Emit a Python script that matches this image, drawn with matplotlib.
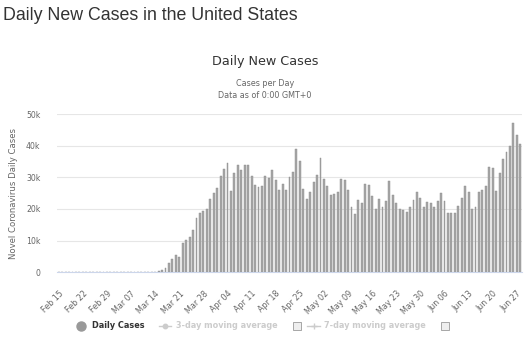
import matplotlib
matplotlib.use("Agg")
import matplotlib.pyplot as plt
from matplotlib.lines import Line2D
from matplotlib.patches import Rectangle
import pandas as pd

dates = pd.date_range("2020-02-15", "2020-06-28", freq="D")
categories = [d.strftime("%b %d") for d in dates]

feb_mar12 = [0] * 27
mar13_apr04 = [150, 200, 500, 600, 1400, 2800, 4200, 5400, 4700, 9400, 10200, 11000,
               13300, 17300, 18600, 19500, 20100, 23000, 25100, 26700, 30300, 32600, 34400]
apr05_apr29 = [25700, 31500, 33900, 32200, 33900, 33900, 30300, 27700, 26800, 27300,
               30300, 29800, 32200, 29000, 26100, 28000, 26000, 30000, 31800, 38900,
               35300, 26300, 23000, 25400, 28500]
apr30_may24 = [30800, 36000, 29600, 27300, 24500, 24600, 25500, 29400, 29200, 26000,
               20600, 18400, 22900, 22000, 28000, 27500, 24100, 20000, 23300, 20600,
               22500, 28800, 24400, 21800, 19900]
may25_jun17 = [19800, 19200, 20600, 22900, 25500, 23600, 20600, 22300, 22000, 20600,
               22600, 25200, 22600, 18700, 18700, 18700, 20900, 23400, 27300, 25500,
               20000, 20600, 25500, 26100]
jun18_jun28 = [27300, 33200, 33100, 25800, 31300, 35800, 38100, 39900, 47300, 43400, 40400]
daily_cases = feb_mar12 + mar13_apr04 + apr05_apr29 + apr30_may24 + may25_jun17 + jun18_jun28

y_ticks = [0, 10000, 20000, 30000, 40000, 50000]
y_tick_labels = ["0", "10k", "20k", "30k", "40k", "50k"]

W, H = 526, 338
fig = plt.figure(figsize=(W / 100, H / 100), dpi=100)
fig.patch.set_facecolor("white")

left, right, top, bottom = 57, 522, 114, 272.3
ax = fig.add_axes([left / W, 1 - bottom / H, (right - left) / W, (bottom - top) / H])

x = list(range(len(daily_cases)))
ax.bar(x, daily_cases, width=0.52, color="#a8a8a8", edgecolor="#8a8a8a", linewidth=0.3, zorder=3)

ax.set_xlim(-0.5, len(categories) - 0.5)
ax.set_ylim(0, 50000)
ax.set_yticks(y_ticks)
ax.set_yticklabels(y_tick_labels, fontsize=5.6, color="#666666", family="DejaVu Sans")
ax.grid(axis="y", color="#e6e6e6", linewidth=0.8, zorder=0)
ax.tick_params(axis="y", length=0, pad=12)

tick_pos = list(range(0, len(categories), 7))
ax.set_xticks(tick_pos)
ax.set_xticklabels([categories[i] for i in tick_pos], rotation=45, ha="right",
                   rotation_mode="anchor", fontsize=5.8, color="#666666", family="DejaVu Sans")
ax.tick_params(axis="x", length=0, pad=12)

for s in ["top", "right", "left"]:
    ax.spines[s].set_visible(False)
ax.spines["bottom"].set_color("#ccd6eb")
ax.spines["bottom"].set_linewidth(0.8)
ax.spines["bottom"].set_zorder(4)

ax.set_ylabel("Novel Coronavirus Daily Cases", fontsize=6.1, color="#666666",
              family="DejaVu Sans", labelpad=6)
ax.yaxis.set_label_coords(-(57 - 18) / (right - left), 0.5)

# Page title
fig.text(3 / W, 1 - 16 / H, "Daily New Cases in the United States", fontsize=12.8,
         color="#333333", family="Liberation Sans", ha="left", va="center")
# Chart title / subtitle
fig.text(265 / W, 1 - 62 / H, "Daily New Cases", fontsize=9.2, color="#333333",
         family="DejaVu Sans", ha="center", va="center")
fig.text(265 / W, 1 - 84 / H, "Cases per Day", fontsize=5.8, color="#666666",
         family="DejaVu Sans", ha="center", va="center")
fig.text(265 / W, 1 - 96 / H, "Data as of 0:00 GMT+0", fontsize=5.8, color="#666666",
         family="DejaVu Sans", ha="center", va="center")

# Legend
ly = 1 - 325.5 / H
fig.add_artist(Line2D([81.3 / W], [ly], marker="o", markersize=6.5, color="#999999",
                      linestyle="none"))
fig.text(92 / W, ly, "Daily Cases", fontsize=5.9, fontweight="bold", color="#333333",
         family="DejaVu Sans", ha="left", va="center")
fig.add_artist(Line2D([159 / W, 171 / W], [ly, ly], color="#cccccc", linewidth=1.0,
                      marker=None))
fig.add_artist(Line2D([165 / W], [ly], marker="o", markersize=3.2, color="#cccccc",
                      linestyle="none"))
fig.text(175.5 / W, ly, "3-day moving average", fontsize=5.9, fontweight="bold",
         color="#cccccc", family="DejaVu Sans", ha="left", va="center")
fig.add_artist(Rectangle((292.7 / W, 1 - 330 / H), 8 / W, 8 / H, facecolor="#eeeeee",
                         edgecolor="#999999", linewidth=0.6))
fig.add_artist(Line2D([307 / W, 320 / W], [ly, ly], color="#cccccc", linewidth=1.0))
fig.add_artist(Line2D([313.5 / W], [ly], marker="+", markersize=4, markeredgewidth=1.0,
                      color="#cccccc", linestyle="none"))
fig.text(324 / W, ly, "7-day moving average", fontsize=5.9, fontweight="bold",
         color="#cccccc", family="DejaVu Sans", ha="left", va="center")
fig.add_artist(Rectangle((440.7 / W, 1 - 330 / H), 8 / W, 8 / H, facecolor="#eeeeee",
                         edgecolor="#999999", linewidth=0.6))

fig.savefig("out.png", dpi=100, facecolor="white")
